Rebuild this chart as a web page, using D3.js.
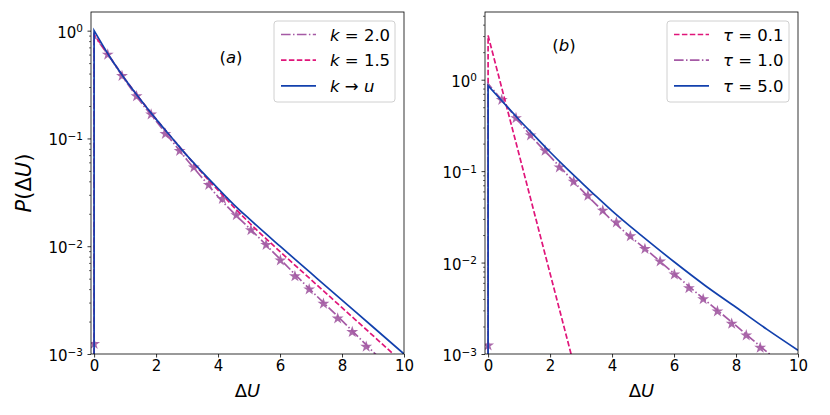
<!DOCTYPE html>
<html><head><meta charset="utf-8">
<script src="https://cdn.jsdelivr.net/npm/d3@7"></script>
<style>body{margin:0;background:#fff}svg{display:block}text{font-family:"DejaVu Sans",sans-serif;fill:#000}</style>
</head><body><svg id="c" width="830" height="415"></svg>
<script>
// ---- data ----
const xCurve = [0, 0, 0.5, 1, 1.5, 2, 2.5, 3, 3.5, 4, 4.5, 5, 6, 7, 8, 9, 10];
// k -> u (solid, left)
const kU   = [1e-6, 1.0, 0.575, 0.355, 0.229, 0.151, 0.102, 0.0692, 0.0484, 0.0343, 0.0245, 0.0180, 0.0100, 0.00562, 0.00316, 0.00178, 0.00100];
// k = 1.5 (dashed, left)
const k15  = [1e-6, 0.92, 0.575, 0.355, 0.229, 0.151, 0.102, 0.0692, 0.0473, 0.0331, 0.0232, 0.0166, 0.00891, 0.0049, 0.00269, 0.00148, 0.00081];
// k = 2.0 (dash-dot, left)
const k20  = [1e-6, 0.90, 0.569, 0.347, 0.219, 0.145, 0.0955, 0.0631, 0.0427, 0.0288, 0.0204, 0.0148, 0.00759, 0.00389, 0.00204, 0.00105, 0.00055];
// tau = 1.0 (dash-dot, right)
const tau1 = [1e-6, 0.90, 0.569, 0.347, 0.219, 0.145, 0.0955, 0.0631, 0.0427, 0.0288, 0.0204, 0.0148, 0.00759, 0.00389, 0.00204, 0.00105, 0.00055];
// tau = 5.0 (solid, right)
const tau5 = [1e-6, 0.86, 0.56, 0.365, 0.243, 0.162, 0.110, 0.0759, 0.0525, 0.0367, 0.0263, 0.0191, 0.0102, 0.00562, 0.00324, 0.00186, 0.00110];
// tau = 0.1 (dashed, right)
const xTau01 = [0, 0, 0.5, 1, 1.5, 2, 2.5, 3];
const tau01  = [1e-6, 3.04, 0.68, 0.152, 0.034, 0.0076, 0.0017, 0.00038];
// simulation (stars)
const xStar = [0, 0.44, 0.90, 1.37, 1.84, 2.30, 2.76, 3.22, 3.70, 4.14, 4.59, 5.06, 5.55, 6.01, 6.48, 6.94, 7.40, 7.86, 8.33, 8.78];
const yStar = [0.00124, 0.60, 0.38, 0.246, 0.167, 0.110, 0.0765, 0.0538, 0.0370, 0.0275, 0.0194, 0.0141, 0.0103, 0.0074, 0.00526, 0.00398, 0.00293, 0.00214, 0.00160, 0.00117];
const xTicks = [0, 2, 4, 6, 8, 10];
const xTickLabels = ["0", "2", "4", "6", "8", "10"];
const yMajor = [1e-3, 1e-2, 1e-1, 1];
const yExp = ["\u22123", "\u22122", "\u22121", "0"];
const legendA = [["k", " = 2.0"], ["k", " = 1.5"], ["k", " \u2192 ", "u"]];
const legendB = [["\u03c4", " = 0.1"], ["\u03c4", " = 1.0"], ["\u03c4", " = 5.0"]];

// ---- styles ----
const C_BLUE = "#1240ad", C_MAG = "#e0157a", C_PUR = "#a55aa5", C_STAR = "#9b4f9b";
const DASH = "5.5,2.4", DASHDOT = "9.6,2.4,1.5,2.4";
const ITALIC = new Set(["k", "u", "\u03c4"]);

const svg = d3.select("#c");
svg.append("rect").attr("width",830).attr("height",415).attr("fill","#fff");

function panel(cfg){
  const x = d3.scaleLinear().domain([-0.1, 10]).range([cfg.l, cfg.r]);
  const y = d3.scaleLog().domain([1e-3, cfg.ymax]).range([cfg.b, cfg.t]);
  const g = svg.append("g");
  const cid = "clip" + cfg.id;
  svg.append("clipPath").attr("id", cid).append("rect")
    .attr("x", cfg.l).attr("y", cfg.t).attr("width", cfg.r-cfg.l).attr("height", cfg.b-cfg.t);
  const plot = g.append("g").attr("clip-path", `url(#${cid})`);
  const lineV = d3.line().x(d=>x(d[0])).y(d=>y(d[1]));
  const lineC = d3.line().x(d=>x(d[0])).y(d=>y(d[1])).curve(d3.curveMonotoneX);

  // stars
  plot.selectAll("path.star").data(d3.zip(xStar, yStar)).enter().append("path")
    .attr("d", d3.symbol(d3.symbolStar, 44))
    .attr("transform", d=>`translate(${x(d[0])},${y(d[1])})`)
    .attr("fill", C_STAR).attr("fill-opacity", 0.85);

  cfg.series.forEach(s=>{
    const pts = d3.zip(s.x, s.y);
    const d = lineV(pts.slice(0,2)) + lineC(pts.slice(1)).replace(/^M/, "L");
    plot.append("path").attr("d", d)
      .attr("fill","none").attr("stroke", s.c).attr("stroke-width", 1.7)
      .attr("stroke-dasharray", s.dash || null);
  });

  // axes
  const xa = g.append("g").attr("transform", `translate(0,${cfg.b})`)
    .call(d3.axisBottom(x).tickValues(xTicks).tickFormat((d,i)=>xTickLabels[i]).tickSizeOuter(0).tickSize(3.5).tickPadding(3));
  xa.select(".domain").remove();
  xa.selectAll("text").attr("font-size", 15).attr("font-family","DejaVu Sans");
  xa.selectAll("line").attr("stroke","#000").attr("stroke-width",0.8);

  const minors = [];
  for (let e=-3; e<=1; e++) for (let m=2; m<=9; m++){ const v=m*Math.pow(10,e); if (v<cfg.ymax) minors.push(v); }
  const ym = g.append("g").attr("transform", `translate(${cfg.l},0)`)
    .call(d3.axisLeft(y).tickValues(minors).tickFormat("").tickSize(2).tickSizeOuter(0));
  ym.select(".domain").remove();
  ym.selectAll("line").attr("stroke","#000").attr("stroke-width",0.6);
  const ya = g.append("g").attr("transform", `translate(${cfg.l},0)`)
    .call(d3.axisLeft(y).tickValues(yMajor).tickFormat("").tickSize(3.5).tickSizeOuter(0));
  ya.select(".domain").remove();
  ya.selectAll("line").attr("stroke","#000").attr("stroke-width",0.8);
  yMajor.forEach((v,i)=>{
    const t = g.append("text").attr("x", cfg.l-8).attr("y", y(v)+7).attr("text-anchor","end").attr("font-size",15);
    t.append("tspan").text("10");
    t.append("tspan").attr("font-size",10.5).attr("dy",-5.5).text(yExp[i]);
  });

  // frame
  g.append("rect").attr("x", cfg.l).attr("y", cfg.t).attr("width", cfg.r-cfg.l).attr("height", cfg.b-cfg.t)
    .attr("fill","none").attr("stroke","#000").attr("stroke-width",0.8);

  // x label
  const xl = g.append("text").attr("x", (cfg.l+cfg.r)/2).attr("y", 397).attr("text-anchor","middle").attr("font-size",18);
  xl.append("tspan").text("\u0394");
  xl.append("tspan").attr("font-style","italic").text("U");

  // panel label
  const pl = g.append("text").attr("x", cfg.px).attr("y", cfg.py).attr("text-anchor","middle").attr("font-size",16.5);
  pl.append("tspan").text("(");
  pl.append("tspan").attr("font-style","italic").text(cfg.plabel);
  pl.append("tspan").text(")");

  // legend
  const L = cfg.leg;
  g.append("rect").attr("x", L.x).attr("y", L.y).attr("width", L.w).attr("height", L.h).attr("rx",3)
    .attr("fill","#fff").attr("fill-opacity",0.8).attr("stroke","#d0d0d0").attr("stroke-width",1);
  L.items.forEach((it,i)=>{
    const cy = L.y + 13.5 + i*25.7;
    g.append("line").attr("x1", L.x+7).attr("x2", L.x+42).attr("y1", cy).attr("y2", cy)
      .attr("stroke", it.c).attr("stroke-width",1.7).attr("stroke-dasharray", it.dash || null);
    const t = g.append("text").attr("x", L.x+56).attr("y", cy+6).attr("font-size",16.5);
    it.label.forEach(p=>{
      t.append("tspan").attr("font-style", ITALIC.has(p)?"italic":null).text(p);
    });
  });
}

panel({id:"a", l:91, r:404, t:12, b:354, ymax:1.49, plabel:"a", px:231, py:63,
  series:[
    {x:xCurve, y:k20, c:C_PUR, dash:DASHDOT},
    {x:xCurve, y:k15, c:C_MAG, dash:DASH},
    {x:xCurve, y:kU,  c:C_BLUE}
  ],
  leg:{x:274, y:21, w:121, h:81, items:[
    {c:C_PUR, dash:DASHDOT, label:legendA[0]},
    {c:C_MAG, dash:DASH, label:legendA[1]},
    {c:C_BLUE, label:legendA[2]}
  ]}
});
panel({id:"b", l:485, r:798, t:12, b:354, ymax:5.5, plabel:"b", px:564, py:51,
  series:[
    {x:xTau01, y:tau01, c:C_MAG, dash:DASH},
    {x:xCurve, y:tau1, c:C_PUR, dash:DASHDOT},
    {x:xCurve, y:tau5, c:C_BLUE}
  ],
  leg:{x:667, y:21, w:122, h:81, items:[
    {c:C_MAG, dash:DASH, label:legendB[0]},
    {c:C_PUR, dash:DASHDOT, label:legendB[1]},
    {c:C_BLUE, label:legendB[2]}
  ]}
});

// y label
const yl = svg.append("text").attr("transform","translate(31,183) rotate(-90)").attr("text-anchor","middle").attr("font-size",21);
yl.append("tspan").attr("font-style","italic").text("P");
yl.append("tspan").text("(\u0394");
yl.append("tspan").attr("font-style","italic").text("U");
yl.append("tspan").text(")");
</script>
</body></html>
